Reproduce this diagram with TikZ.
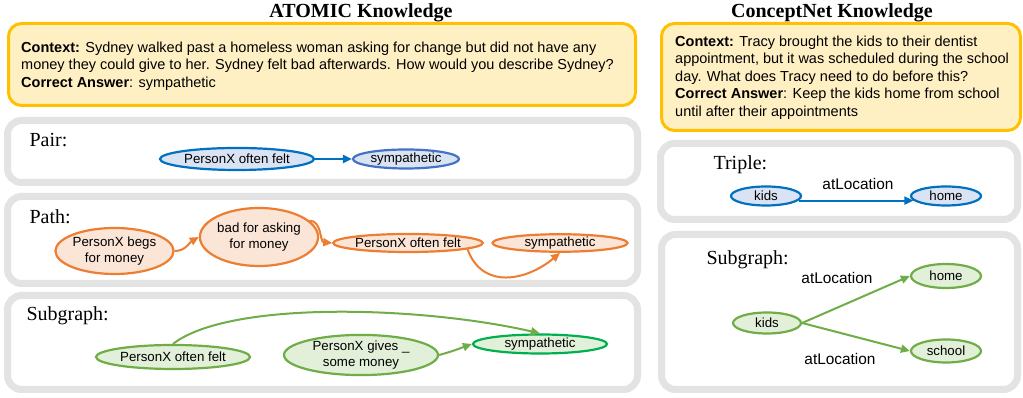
\documentclass[tikz,border=0pt]{standalone}
\usepackage{fontspec}
\setmainfont{Liberation Serif}
\setsansfont{Liberation Sans}
\usetikzlibrary{shapes.geometric,arrows.meta}

\definecolor{qline}{HTML}{FFC000}
\definecolor{qfill}{HTML}{FFF0C4}
\definecolor{panelgray}{HTML}{E3E3E3}
\definecolor{bline}{HTML}{0070C0}
\definecolor{bline2}{HTML}{4472C4}
\definecolor{bfill}{HTML}{DAE3F3}
\definecolor{oline}{HTML}{ED7D31}
\definecolor{ofill}{HTML}{FBE5D6}
\definecolor{gline}{HTML}{70AD47}
\definecolor{gline2}{HTML}{00B050}
\definecolor{gfill}{HTML}{E2F0D9}

\begin{document}
\begin{tikzpicture}[x=1pt, y=1pt,
  qbox/.style={draw=qline, fill=qfill, line width=3pt, rounded corners=13pt},
  panel/.style={draw=panelgray, fill=white, line width=7pt, rounded corners=14pt},
  title/.style={anchor=base, font=\fontsize{20}{24}\selectfont\bfseries},
  tag/.style={anchor=base west, font=\fontsize{20}{24}\selectfont},
  qtext/.style={anchor=north west, inner sep=0pt, align=left, font=\sffamily\fontsize{14.5}{17.5}\selectfont},
  ent/.style={ellipse, inner sep=0pt, line width=2.2pt, align=center, font=\sffamily\fontsize{13.3}{16}\selectfont},
  blue ent/.style={ent, draw=bline, fill=bfill},
  orange ent/.style={ent, draw=oline, fill=ofill},
  green ent/.style={ent, draw=gline, fill=gfill},
  rel/.style={font=\sffamily\fontsize{15.4}{18}\selectfont},
  link/.style={line width=2pt, -{Triangle[length=9pt,width=8pt]}},
]
  \useasboundingbox (0,0) rectangle (1023,398);

  % Frames
  \draw[qbox] (8.5,292.5) rectangle (635.5,374.5);
  \draw[panel] (7.5,215.5) rectangle (637.5,277.5);
  \draw[panel] (7.5,114.5) rectangle (637.5,201.5);
  \draw[panel] (7.5,8.5) rectangle (637.5,102.5);
  \draw[qbox] (661.5,267.5) rectangle (1020.5,374.5);
  \draw[panel] (660.5,178.5) rectangle (1017.5,254.5);
  \draw[panel] (661.5,8.5) rectangle (1017.5,163.5);

  % Titles
  \node[title] (atomic) at (361,380) {ATOMIC Knowledge};
  \node[title] (cnet) at (832,380) {ConceptNet Knowledge};

  % Questions
  \node[qtext] (qA) at (21,356.6) {\textbf{Context:} Sydney walked past a homeless woman asking for change but did not have any\\
    money they could give to her. Sydney felt bad afterwards. How would you describe Sydney?\\
    \textbf{Correct Answer}: sympathetic};
  \node[qtext] (qC) at (675,362.6) {\textbf{Context:} Tracy brought the kids to their dentist\\
    appointment, but it was scheduled during the school\\
    day. What does Tracy need to do before this?\\
    \textbf{Correct Answer}: Keep the kids home from school\\
    until after their appointments};

  % Pair
  \node[tag] (pairtag) at (26,251) {Pair:};
  \node[blue ent, minimum width=154pt, minimum height=22pt] (A1) at (237,239) {PersonX often felt};
  \node[blue ent, draw=bline2, minimum width=106pt, minimum height=19pt] (A2) at (406,239) {sympathetic};
  \draw[link, bline] (A1) -- (A2);

  % Path
  \node[tag] (pathtag) at (26,174) {Path:};
  \node[orange ent, minimum width=117pt, minimum height=46pt] (P1) at (114.5,147) {PersonX begs\\for money};
  \node[orange ent, minimum width=94pt, minimum height=58pt] (P2) at (259,161) {bad for asking\\for money};
  \node[orange ent, minimum width=149pt, minimum height=18pt] (P3) at (408,155) {PersonX often felt};
  \node[orange ent, minimum width=135pt, minimum height=17pt] (P4) at (560,155) {sympathetic};
  \draw[link, oline] (P1.east) to[out=0, in=210] (P2.west);
  \draw[link, oline] (P2.18) to[out=0, in=175] (P3.west);
  \draw[link, oline] (P3.-6) to[out=-70, in=-140, looseness=1.2] (P4.south);

  % Subgraph
  \node[tag] (subtag) at (23,77) {Subgraph:};
  \node[green ent, minimum width=154pt, minimum height=24pt] (S1) at (173,41) {PersonX often felt};
  \node[green ent, minimum width=154pt, minimum height=38pt] (S2) at (361,43) {PersonX gives \_\\some money};
  \node[green ent, draw=gline2, minimum width=134pt, minimum height=19pt] (S3) at (540,54) {sympathetic};
  \draw[link, gline] (S2.east) to[out=15, in=200] (S3.west);
  \draw[link, gline] (S1.north) .. controls +(57,44) and +(-117,27) .. (S3.north);

  % Triple
  \node[tag] (tripletag) at (710,228) {Triple:};
  \node[blue ent, minimum width=70pt, minimum height=19pt] (K1) at (766,202) {kids};
  \node[blue ent, minimum width=70pt, minimum height=19pt] (K2) at (946,202) {home};
  \node[rel] (tlbl) at (858,214) {atLocation};
  \draw[link, bline] (K1.-8) -- (K2.188);

  % ConceptNet subgraph
  \node[tag] (csubtag) at (703,133) {Subgraph:};
  \node[green ent, minimum width=68pt, minimum height=21pt] (R1) at (767,75) {kids};
  \node[green ent, minimum width=70pt, minimum height=24pt] (R2) at (946,122) {home};
  \node[green ent, minimum width=70pt, minimum height=23pt] (R3) at (946,47) {school};
  \node[rel] (rlbl1) at (837,120) {atLocation};
  \node[rel] (rlbl2) at (840,39) {atLocation};
  \draw[link, gline] (R1.east) -- (R2.west);
  \draw[link, gline] (R1.east) -- (R3.west);

\end{tikzpicture}
\end{document}
